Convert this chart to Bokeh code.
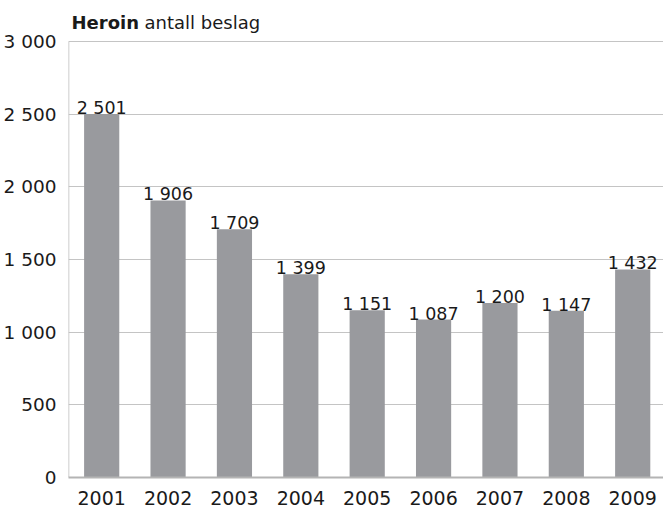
from bokeh.plotting import figure
from bokeh.models import Range1d, FixedTicker, Label, ColumnDataSource
from bokeh.core.properties import value
from bokeh.embed import file_html
from bokeh.resources import INLINE

years = [2001, 2002, 2003, 2004, 2005, 2006, 2007, 2008, 2009]
seizures = [2501, 1906, 1709, 1399, 1151, 1087, 1200, 1147, 1432]
y_ticks = [0, 500, 1000, 1500, 2000, 2500, 3000]
title_bold = "Heroin"
title_rest = "antall beslag"


def fmt(v):
    return f"{v:,}".replace(",", " ")


src = ColumnDataSource(dict(x=years, top=seizures, lbl=[fmt(v) for v in seizures]))

FONT = "DejaVu Sans"
W, H = 663, 508
BORDER_L, BORDER_B = 66, 31
Y_MAX = y_ticks[-1]
FRAME_H = H - BORDER_B
PX_TOP = 41                 # pixels between frame top and the top gridline
y_end = Y_MAX * FRAME_H / (FRAME_H - PX_TOP)
x_start = years[0] - 0.5

p = figure(width=W, height=H, output_backend="svg", toolbar_location=None,
           x_range=Range1d(x_start, x_start + (W - BORDER_L) / 66.6), y_range=Range1d(0, y_end),
           min_border_left=BORDER_L, min_border_top=0, min_border_right=0,
           min_border_bottom=BORDER_B)
p.outline_line_color = None
p.background_fill_color = "white"
p.border_fill_color = "white"

# left axis line only up to the top tick
p.segment(x0=[x_start], y0=[0], x1=[x_start], y1=[Y_MAX], line_color="#bdbdbd", line_width=1.5)

p.vbar(x="x", top="top", width=0.53, bottom=0, source=src,
       fill_color="#999a9e", line_color=None)
p.text(x="x", y="top", text="lbl", source=src, text_align="center",
       text_baseline="alphabetic", y_offset=-6, text_font=value(FONT),
       text_font_size="17.5px", text_color="#1a1a1a")

p.xgrid.grid_line_color = None
p.ygrid.grid_line_color = "#c4c4c4"
p.ygrid.grid_line_width = 1
p.yaxis.ticker = FixedTicker(ticks=y_ticks)
p.yaxis.major_label_overrides = {t: fmt(t) for t in y_ticks}
p.xaxis.ticker = FixedTicker(ticks=years)
p.xaxis.major_label_overrides = {y: str(y) for y in years}

for ax in (p.xaxis, p.yaxis):
    ax.major_tick_line_color = None
    ax.minor_tick_line_color = None
    ax.major_label_text_font = FONT
    ax.major_label_text_color = "#1a1a1a"
p.xaxis.major_label_text_font_size = "19px"
p.yaxis.major_label_text_font_size = "18.5px"
p.yaxis.axis_line_color = None
p.yaxis.major_label_standoff = 6
p.xaxis.axis_line_color = "#b4b4b4"
p.xaxis.axis_line_width = 2
p.xaxis.major_label_standoff = 7

p.add_layout(Label(x=71, y=22, x_units="canvas", y_units="canvas", text=title_bold,
                   text_font=FONT, text_font_style="bold", text_font_size="18px",
                   text_baseline="alphabetic", text_color="#1a1a1a"))
p.add_layout(Label(x=144, y=22, x_units="canvas", y_units="canvas", text=title_rest,
                   text_font=FONT, text_font_size="18px",
                   text_baseline="alphabetic", text_color="#1a1a1a"))

open("out.html", "w").write(file_html(p, INLINE))
